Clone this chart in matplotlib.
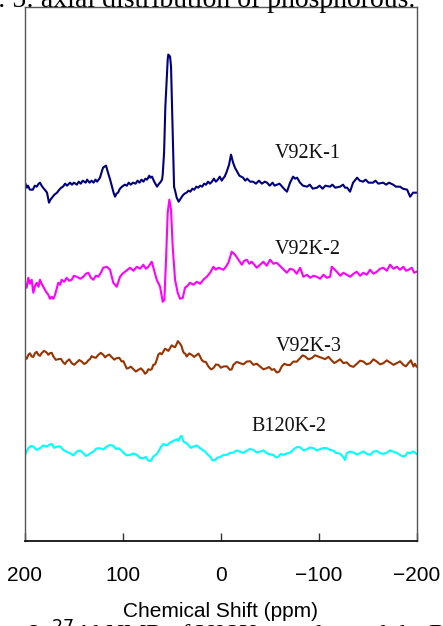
import numpy as np
import matplotlib
matplotlib.use("Agg")
import matplotlib.pyplot as plt

# ---------------- data (ppm, baseline-relative intensity) ----------------
v1_ppm = [200, 198, 197, 195, 192, 190, 188, 186, 184.7, 183,
          181.6, 179, 177.5, 175.5, 174, 172.4, 170, 167.3, 165, 163,
          161.2, 159, 157, 154, 152, 150, 147, 145, 143, 141,
          138, 136.6, 134, 132, 130, 128, 126.4, 124, 123.4, 121.5,
          120.3, 117.2, 115.2, 113, 111.1, 109.5, 108, 106.5, 105, 103,
          100.9, 98, 96, 94, 92, 89.6, 87, 85, 83, 81,
          79, 77, 75.3, 73, 72, 70.2, 68, 65.1, 63, 62,
          60, 59.3, 57.9, 56.6, 55.2, 54.2, 53.6, 51.8, 50.8, 49.8,
          48.7, 47.7, 46.4, 45, 43, 41, 39, 37, 35, 33,
          31, 29, 27, 25, 23, 21, 19, 17, 15, 13,
          11, 9, 7, 5, 3, 1, -1, -3, -4, -6.1,
          -8.5, -10.5, -12.6, -14.5, -16.7, -19, -22.8, -25, -27, -30,
          -33, -36, -39, -42, -45, -47.3, -50, -53, -55, -57.5,
          -60, -63.7, -65.5, -67.7, -70.8, -73.9, -76, -78, -81, -84,
          -88.2, -91, -94, -98.4, -101, -104, -107, -111.7, -114, -117,
          -121.9, -125, -127, -129.1, -132.1, -135.2, -139.3, -142, -145.4, -148,
          -151, -155.6, -158, -161, -165.9, -169, -172, -176.1, -179, -183.2,
          -186, -190.4, -193.5, -196.5, -199.6]
v1_int = [2, -3, -1, -5, -5, -1, -2, 1, 2, -1,
          -3, -6, -8, -18, -15, -13, -10, -8, -5, -3,
          -2, 1, -1, 2, 0, 2, 0, 3, 1, 4,
          2, 5, 2, 4, 2, 5, 3, 6, 7, 13,
          17, 19, 12, 5, -2, -8, -12, -9, -8, -4,
          -2, 0, -1, 2, 0, 2, 1, 4, 2, 5,
          3, 6, 5, 9, 7, 8, 3, -2, 1, 2,
          5, 10, 32, 78, 105, 125, 130, 128, 118, 78,
          35, -2, -7, -13, -17, -14, -11, -9, -8, -6,
          -7, -4, -5, -2, -3, -1, -2, 1, 0, 3,
          1, 3, 6, 3, 5, 8, 4, 7, 8, 13,
          20, 30, 22, 17, 13, 9, 7, 4, 6, 3,
          3, 1, 4, 1, 3, 2, -1, 2, -1, 0,
          1, -3, -5, -7, 2, 8, 6, 7, 2, -1,
          -2, 0, -4, -3, -1, -4, -1, -2, 0, -3,
          -2, 0, -3, -3, -7, 2, 7, 4, 3, 5,
          2, 2, 4, 1, 2, 0, 2, 0, -2, -2,
          -4, -5, -12, -8, -8]

v2_ppm = [200, 198.3, 196.6, 195, 193.2, 191.5, 189.7, 188.0, 186.2, 184.7,
          183, 181.3, 178.5, 176.2, 174.5, 172.7, 171, 169.3, 167.7, 166.0,
          164.2, 162.5, 160, 157.4, 155, 152.3, 150, 147.2, 143.5, 140.4,
          137.8, 135.3, 132.7, 130.2, 127.6, 125.1, 122.5, 120.0, 116.5, 113.1,
          109.8, 106.3, 102.9, 100.4, 97.8, 95.2, 92.7, 89.2, 85.8, 82.4,
          79.1, 76.5, 74.0, 70.5, 68.2, 65.4, 62.0, 59.3, 57.6, 55.9,
          54.2, 52.5, 50.8, 49.1, 46.7, 44.0, 41.6, 38.8, 36.5, 34.0,
          31.4, 28, 24.5, 21, 17.8, 14.3, 10.9, 7.5, 5, 2.4,
          -2.7, -5.3, -7.8, -11.2, -14.6, -18.0, -21.5, -24, -26.6, -29.2,
          -31.7, -36.8, -40.2, -43.5, -47, -50.4, -53.8, -57.2, -62.3, -67.5,
          -70.8, -74.2, -77.6, -81.1, -84.4, -88, -91.3, -94.7, -98.1, -101.5,
          -104.9, -108.3, -111.7, -113.4, -118.6, -122, -125.3, -128.7, -132.2, -135.6,
          -139.0, -142.4, -145.7, -149.1, -152.6, -156, -159.4, -162.8, -166.2, -169.6,
          -173.0, -176.5, -179.9, -183.2, -186.6, -189.2, -191.8, -195.2, -197.6, -200.0]
v2_int = [-3, -8, 2, -4, 0, -13, -6, -3, -7, 0,
          -4, -7, -12, -15, -19, -17, -19, -15, -9, -3,
          -5, 0, -2, 2, -1, 0, 4, 3, 1, 3,
          6, 7, 2, 0, 4, 3, 7, 12, 13, 10,
          -3, -7, 3, 6, 8, 10, 12, 9, 13, 11,
          15, 11, 13, 18, 10, 0, -7, -22, -20, 20,
          67, 80, 70, 33, 0, -13, -19, -18, -8, -6,
          -3, -5, -2, -4, 0, 3, 7, 13, 10, 12,
          10, 13, 17, 28, 25, 20, 15, 19, 20, 16,
          18, 12, 15, 18, 14, 20, 16, 17, 12, 7,
          11, 10, 6, 12, 3, 5, 2, 4, 3, 1,
          5, 2, 3, 13, 8, 4, 7, 5, 3, 6,
          8, 4, 7, 5, 10, 6, 8, 11, 12, 9,
          15, 11, 13, 10, 13, 9, 10, 12, 7, 8]

v3_ppm = [200.0, 198.3, 196.6, 194.9, 193.2, 191.5, 189.8, 188.1, 186.4, 184.7,
          183.0, 180.5, 177.9, 176.2, 174.5, 172.7, 171.0, 168.5, 165.9, 163.3,
          160.8, 159.1, 157.4, 154.8, 152.3, 149.7, 147.2, 144.6, 142.1, 139.5,
          137.0, 135.3, 133.6, 131.9, 130.2, 127.6, 125.1, 122.5, 120.0, 118.2,
          116.5, 113.9, 111.4, 108.8, 106.3, 103.7, 101.2, 99.5, 97.8, 96.1,
          94.4, 91.8, 89.3, 86.7, 84.2, 81.6, 79.1, 77.4, 75.7, 74.0,
          72.3, 70.6, 68.9, 67.1, 65.4, 63.7, 62.0, 60.3, 58.6, 56.9,
          55.2, 53.5, 51.8, 50.1, 48.4, 46.7, 45.0, 43.8, 42.6, 41.2,
          39.9, 38.7, 37.5, 36.1, 34.8, 32.2, 29.7, 27.1, 24.5, 22.8,
          21.1, 19.4, 17.7, 15.1, 12.6, 10.0, 7.5, 5.0, 2.4, -0.2,
          -2.7, -6.1, -9.5, -11.2, -12.9, -16.3, -19.7, -23.1, -26.6, -30.0,
          -33.4, -36.8, -40.2, -43.6, -47.0, -49.5, -52.1, -54.6, -57.2, -59.8,
          -62.3, -64.9, -67.5, -70.8, -74.2, -77.6, -81.1, -83.6, -86.2, -89.6,
          -93.0, -96.4, -99.8, -103.2, -106.6, -110.0, -113.4, -116.0, -118.6, -121.9,
          -125.3, -128.7, -132.2, -135.6, -139.0, -142.3, -145.7, -149.1, -152.6, -156.0,
          -159.4, -162.8, -166.2, -169.6, -173.0, -176.5, -179.9, -183.2, -186.6, -189.2,
          -191.8, -194.3, -196.9, -198.4, -200.0]
v3_int = [3.3, 1.0, 5.0, 6.5, 3.3, 3.0, 6.7, 8.0, 5.0, 4.0,
          6.7, 9.0, 7.3, 5.0, 6.7, 7.0, 3.3, 0.0, 0.7, 1.0,
          -2.7, -4.2, -1.7, 0.5, -3.3, -5.0, -2.7, -0.2, -1.7, -4.2,
          -2.7, -0.5, 0.7, 3.7, 2.7, 2.0, 5.0, 7.0, 5.0, 2.5,
          4.0, 5.3, 2.7, 0.2, 1.7, 2.0, -1.7, -1.3, -5.0, -8.7,
          -8.3, -6.8, -9.3, -11.7, -10.0, -8.5, -11.0, -13.9, -12.7, -9.4,
          -10.0, -9.5, -5.0, -4.5, 0.0, 5.4, 6.7, 5.5, 8.3, 11.2,
          10.0, 8.9, 11.7, 14.5, 13.3, 12.6, 16.0, 18.7, 17.3, 15.6,
          13.3, 9.0, 6.7, 6.0, 3.3, 6.4, 5.0, 2.9, 5.0, 6.2,
          3.3, -0.2, -1.7, -2.2, -6.7, -9.5, -8.3, -4.7, -5.0, -7.9,
          -6.7, -6.4, -10.0, -9.5, -5.0, -2.1, -3.3, -4.5, -1.7, -1.4,
          -5.0, -3.9, -6.7, -9.5, -8.3, -7.2, -10.0, -9.3, -12.7, -11.7,
          -6.7, -3.9, -5.0, -5.3, -1.7, -1.9, 1.7, 4.5, 3.3, 0.5,
          1.7, 4.5, 3.3, 2.0, 0.7, 3.0, -0.7, -3.2, -1.7, 0.5,
          -3.3, -2.5, -6.0, -7.0, -4.0, -0.9, -1.7, -4.5, -3.3, 0.5,
          -1.7, -4.5, -3.3, -0.5, -2.7, -5.0, -3.3, -1.5, -5.0, -6.5,
          -3.3, -0.5, -6.7, -3.9, -6.7]

b2_ppm = [200.0, 198.3, 196.6, 194.0, 191.5, 188.1, 184.7, 181.3, 177.9, 175.3,
          172.7, 170.1, 167.6, 164.2, 160.8, 157.4, 154.0, 150.6, 147.2, 143.8,
          140.4, 137.8, 135.3, 132.7, 130.2, 126.8, 123.4, 120.0, 116.5, 113.1,
          109.7, 107.1, 104.6, 102.0, 99.5, 96.1, 92.7, 89.2, 85.8, 82.4,
          79.1, 76.5, 74.0, 71.4, 68.9, 66.3, 63.7, 61.1, 58.6, 55.2,
          51.8, 48.4, 45.0, 43.3, 41.6, 39.9, 38.2, 35.6, 33.1, 30.5,
          28.0, 24.5, 21.1, 18.5, 16.0, 13.4, 10.9, 8.3, 5.8, 3.2,
          0.7, -2.7, -6.1, -9.5, -12.9, -16.3, -19.7, -23.1, -26.6, -30.0,
          -33.4, -36.8, -40.2, -43.6, -47.0, -50.4, -53.8, -56.4, -58.9, -61.4,
          -64.0, -67.4, -70.8, -73.4, -75.9, -78.5, -81.1, -84.5, -87.9, -91.3,
          -94.7, -98.1, -101.5, -104.9, -108.3, -111.7, -115.1, -117.6, -120.2, -122.7,
          -125.3, -127.0, -128.7, -132.1, -135.6, -139.0, -142.4, -145.8, -149.2, -152.6,
          -156.0, -159.4, -162.8, -166.2, -169.6, -173.0, -176.4, -179.8, -183.2, -185.8,
          -188.4, -191.0, -193.5, -196.8, -200.0]
b2_int = [-3.0, 0.5, 3.7, 6.0, 5.3, 2.0, 3.7, 6.5, 5.3, 7.0,
          8.0, 4.0, 5.3, 5.5, 2.0, 0.0, -1.3, -3.5, 0.3, 1.5,
          -1.3, -4.0, -3.0, -1.0, 0.3, 3.5, 3.7, 2.5, 5.3, 7.0,
          6.0, 3.0, 3.7, 2.0, -0.7, -3.5, -3.0, -1.5, -3.0, -6.0,
          -6.3, -5.0, -8.7, -9.0, -4.7, -3.0, 0.3, 5.0, 8.0, 6.5,
          9.3, 11.0, 12.7, 11.0, 14.7, 16.0, 10.3, 9.0, 7.0, 4.0,
          5.3, 6.5, 3.7, 2.0, 0.3, -2.5, -4.7, -8.5, -8.0, -5.5,
          -5.3, -3.0, -3.0, -1.0, -0.7, 1.5, 0.3, -1.0, 1.3, 3.0,
          2.0, -0.5, 0.3, 1.5, -1.3, -2.5, -3.0, -5.5, -4.7, -2.0,
          -3.0, -1.5, -0.7, 1.5, 3.7, 5.0, 4.7, 1.5, 2.7, 4.5,
          3.7, 1.5, 2.7, 4.0, 3.7, 2.0, 1.3, -1.0, -1.3, -2.5,
          -5.3, -8.0, -1.3, 0.5, -0.7, -2.5, -1.3, 0.5, -2.0, -3.0,
          0.3, 1.0, -1.3, -2.0, -0.7, 1.5, 0.3, -1.0, -3.0, -4.5,
          -4.0, -0.5, -1.3, 0.5, -2.0]

names = ["V92K-1", "V92K-2", "V92K-3", "B120K-2"]
colors = ["#000080", "#FF00FF", "#993300", "#00FFFF"]
offsets = [356, 261, 181, 89]
label_ppm = [-89, -89, -89.5, -70]
label_dy = [31, 30, 13, 25]

xticks = [200, 100, 0, -100, -200]
xlabel = "Chemical Shift (ppm)"

# ---------------- figure ----------------
W, H = 443, 626
fig = plt.figure(figsize=(W / 100, H / 100), dpi=100)
ax = fig.add_axes([25 / W, 1 - 541 / H, (416.5 - 25) / W, (541 - 6.5) / H])

series = [(v1_ppm, v1_int), (v2_ppm, v2_int), (v3_ppm, v3_int), (b2_ppm, b2_int)]
for (px, iy), c, off in zip(series, colors, offsets):
    ax.plot(px, np.asarray(iy, dtype=float) + off, color=c, lw=1.5,
            solid_joinstyle="round")

for n, lp, off, dy in zip(names, label_ppm, offsets, label_dy):
    ax.text(lp, off + dy, n, ha="center", va="center",
            family="Liberation Serif", fontsize=14.5, color="#111111")

ax.set_xlim(200, -200)
ax.set_ylim(0, 534)
ax.set_yticks([])
ax.set_xticks(xticks)
ax.set_xticklabels([f"{t}".replace("-", "\u2212") for t in xticks],
                   family="Liberation Sans", fontsize=15)
ax.tick_params(axis="x", direction="in", length=6, width=1, pad=18,
               color="#333333")
ax.set_xlabel(xlabel, family="Liberation Sans", fontsize=15, labelpad=12)

for s in ["left", "right", "top"]:
    ax.spines[s].set_color("#555555")
    ax.spines[s].set_linewidth(1.0)
ax.spines["bottom"].set_color("#111111")
ax.spines["bottom"].set_linewidth(1.3)

# partially visible page captions (cropped by the figure edges)
fig.text(415 / W, 1 - 7 / H, "Fig. 5: axial distribution of phosphorous.",
         ha="right", va="baseline", family="Liberation Serif", fontsize=20)
fig.text(-20 / W, 1 - 619 / H, r"Fig. 6. $^{27}$Al NMR of V92K samples and the B120K",
         ha="left", va="top", family="Liberation Serif", fontsize=18)

fig.savefig("out.png", dpi=100)
